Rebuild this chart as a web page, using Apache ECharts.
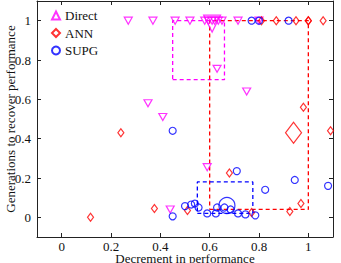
<!DOCTYPE html>
<html>
<head>
<meta charset="utf-8">
<script src="https://cdn.jsdelivr.net/npm/echarts@6/dist/echarts.min.js"></script>
<style>
  html, body { margin: 0; padding: 0; background: #fff; }
  #chart { width: 341px; height: 263px; }
</style>
</head>
<body>
<div id="chart"></div>
<script>
  // 数据：各方法的点（x = 性能下降, y = 恢复所需代数）
  var directX = [0.27, 0.37, 0.46, 0.52, 0.58, 0.595, 0.61, 0.62, 0.635, 0.65, 0.715, 0.80, 0.35, 0.41, 0.63, 0.75, 0.59, 0.44];
  var directY = [1, 1, 1, 1, 1, 1, 1, 1, 1, 1, 1, 1, 0.58, 0.51, 0.755, 0.64, 0.255, 0.04];
  var annX = [0.117, 0.24, 0.376, 0.51, 0.68, 0.77, 0.925, 0.97, 0.98, 1.09, 0.81, 0.87, 0.95, 1.0, 1.0, 1.06];
  var annY = [0.0, 0.43, 0.045, 0.035, 0.225, 0.025, 0.03, 0.07, 0.56, 0.44, 1, 1, 1, 1, 1, 1];
  var supgX = [0.45, 0.45, 0.50, 0.525, 0.54, 0.555, 0.59, 0.625, 0.63, 0.66, 0.685, 0.715, 0.745, 0.785, 0.71, 0.825, 0.945, 1.08, 0.77, 0.80, 0.92];
  var supgY = [0.44, 0.005, 0.057, 0.065, 0.07, 0.05, 0.02, 0.02, 0.05, 0.05, 0.04, 0.02, 0.015, 0.01, 0.235, 0.14, 0.19, 0.16, 1, 1, 1];

  // 均值与四分位框 [x0, x1, y0, y1]
  var directMean = [0.61, 0.985];
  var annMean = [0.94, 0.43];
  var supgMean = [0.67, 0.06];
  var directBox = [0.45, 0.66, 0.70, 1.0];
  var annBox = [0.60, 1.0, 0.04, 1.0];
  var supgBox = [0.55, 0.775, 0.02, 0.18];

  var tickValues = [0, 0.2, 0.4, 0.6, 0.8, 1];

  var magenta = '#ff00ff';
  var red = '#ff0000';
  var blue = '#0000ff';
  var axisColor = '#222';
  var font = '"Liberation Serif", "DejaVu Serif", serif';

  function pairs(xs, ys) {
    return xs.map(function (x, i) { return [x, ys[i]]; });
  }

  function boxPath(b) {
    return [[b[0], b[2]], [b[1], b[2]], [b[1], b[3]], [b[0], b[3]], [b[0], b[2]]];
  }

  function boxSeries(b, color) {
    return {
      type: 'line',
      data: boxPath(b),
      symbol: 'none',
      silent: true,
      z: 1,
      lineStyle: { color: color, width: 1.3, type: [4, 3] }
    };
  }

  function hollow(color) {
    return { color: 'rgba(0,0,0,0)', borderColor: color, borderWidth: 1.2 };
  }

  var chart = echarts.init(document.getElementById('chart'), null, { renderer: 'svg' });

  function sideAxis(pos) {
    return {
      type: 'value',
      position: pos,
      min: -0.1,
      max: 1.1,
      axisLine: { show: true, onZero: false, lineStyle: { color: axisColor, width: 1 } },
      axisTick: { show: true, inside: true, length: 4, customValues: tickValues, lineStyle: { color: axisColor } },
      axisLabel: { show: false },
      splitLine: { show: false }
    };
  }

  chart.setOption({
    animation: false,
    textStyle: { fontFamily: font },
    grid: { left: 37, right: 8, top: 1, bottom: 26, containLabel: false, outerBoundsMode: 'none' },
    legend: {
      data: ['Direct', 'ANN', 'SUPG'],
      orient: 'vertical',
      left: 51,
      top: 9,
      padding: 0,
      itemWidth: 8,
      itemHeight: 8,
      itemGap: 4.5,
      textStyle: { fontFamily: font, fontSize: 13, color: '#111' }
    },
    xAxis: [
      {
        type: 'value',
        min: -0.1,
        max: 1.1,
        name: 'Decrement in performance',
        nameLocation: 'middle',
        nameGap: 15,
        nameMoveOverlap: false,
        nameTextStyle: { fontFamily: font, fontSize: 13, lineHeight: 12, color: '#111' },
        axisLine: { show: true, onZero: false, lineStyle: { color: axisColor, width: 1 } },
        axisTick: { show: true, inside: true, length: 4, customValues: tickValues, lineStyle: { color: axisColor } },
        axisLabel: { customValues: tickValues, margin: 3, fontFamily: font, fontSize: 13, lineHeight: 12, color: '#111' },
        splitLine: { show: false }
      },
      sideAxis('top')
    ],
    yAxis: [
      {
        type: 'value',
        min: -0.1,
        max: 1.1,
        name: 'Generations to recover performance',
        nameLocation: 'middle',
        nameGap: 20,
        nameMoveOverlap: false,
        nameTextStyle: { fontFamily: font, fontSize: 13, color: '#111' },
        axisLine: { show: true, onZero: false, lineStyle: { color: axisColor, width: 1 } },
        axisTick: { show: true, inside: true, length: 4, customValues: tickValues, lineStyle: { color: axisColor } },
        axisLabel: { customValues: tickValues, margin: 6, fontFamily: font, fontSize: 13, color: '#111' },
        splitLine: { show: false }
      },
      sideAxis('right')
    ],
    series: [
      boxSeries(directBox, magenta),
      boxSeries(annBox, red),
      boxSeries(supgBox, blue),
      {
        name: 'Direct',
        type: 'scatter',
        data: pairs(directX, directY),
        symbol: 'triangle',
        symbolRotate: 180,
        symbolSize: [8, 7],
        itemStyle: hollow(magenta)
      },
      {
        name: 'ANN',
        type: 'scatter',
        data: pairs(annX, annY),
        symbol: 'diamond',
        symbolSize: [6, 8],
        itemStyle: hollow(red)
      },
      {
        name: 'SUPG',
        type: 'scatter',
        data: pairs(supgX, supgY),
        symbol: 'circle',
        symbolSize: 7,
        itemStyle: hollow(blue)
      },
      {
        type: 'scatter',
        data: [directMean],
        symbol: 'triangle',
        symbolRotate: 180,
        symbolSize: [17, 17],
        itemStyle: hollow(magenta)
      },
      {
        type: 'scatter',
        data: [annMean],
        symbol: 'diamond',
        symbolSize: [16, 21],
        itemStyle: hollow(red)
      },
      {
        type: 'scatter',
        data: [supgMean],
        symbol: 'circle',
        symbolSize: 16,
        itemStyle: hollow(blue)
      }
    ]
  });
</script>
</body>
</html>
